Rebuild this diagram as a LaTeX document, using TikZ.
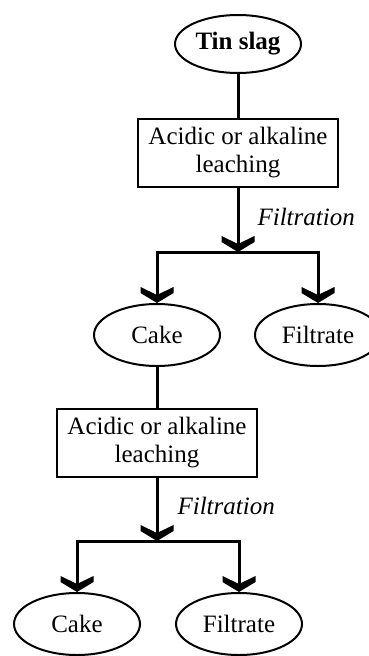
\documentclass[tikz,border=0pt]{standalone}
\usepackage{fontspec}
\setmainfont{Liberation Serif}
\usetikzlibrary{arrows.meta,shapes.geometric}
\pgfdeclarearrow{
  name = Chev,
  setup code = {
    \pgfarrowssettipend{0pt}
    \pgfarrowssetlineend{-6pt}
    \pgfarrowssetbackend{-16pt}
    \pgfarrowshullpoint{0pt}{0pt}
    \pgfarrowshullpoint{-16pt}{16.5pt}
    \pgfarrowshullpoint{-16pt}{-16.5pt}
  },
  drawing code = {
    \pgfpathmoveto{\pgfpoint{0pt}{0pt}}
    \pgfpathlineto{\pgfpoint{-10pt}{16.5pt}}
    \pgfpathlineto{\pgfpoint{-16pt}{16.5pt}}
    \pgfpathlineto{\pgfpoint{-8pt}{0pt}}
    \pgfpathlineto{\pgfpoint{-16pt}{-16.5pt}}
    \pgfpathlineto{\pgfpoint{-10pt}{-16.5pt}}
    \pgfpathclose
    \pgfusepathqfill
  }
}
\begin{document}
\begin{tikzpicture}[x=1pt,y=-1pt,
  every node/.style={font=\fontsize{25}{28}\selectfont},
  oval/.style={draw,ellipse,line width=2pt,minimum width=126pt,minimum height=62pt,inner sep=0pt},
  proc/.style={draw,rectangle,line width=2.2pt,minimum width=200pt,minimum height=68pt,inner sep=0pt,align=center},
  conn/.style={line width=3pt},
  chev/.style={-Chev},
  lbl/.style={anchor=west,font=\fontsize{25}{28}\selectfont\itshape}]
\useasboundingbox[fill=white] (0,0) rectangle (369,656);
\node[oval,minimum height=58pt] (tin) at (238,44) {\textbf{Tin slag}};
\node[proc] (box1) at (238,153) {Acidic or alkaline\\leaching};
\coordinate (j1) at (238,252);
\node[oval] (cake1) at (157,335) {Cake};
\node[oval] (filt1) at (318,335) {Filtrate};
\node[proc] (box2) at (157,443) {Acidic or alkaline\\leaching};
\coordinate (j2) at (157,541);
\node[oval] (cake2) at (77,624) {Cake};
\node[oval] (filt2) at (239,624) {Filtrate};
\node[lbl] (f1) at (254,217) {Filtration};
\node[lbl] (f2) at (174,506) {Filtration};
\draw[conn] (tin) -- (box1);
\draw[conn,chev] (box1) -- (j1);
\draw[conn,chev] (j1) -| (cake1.north);
\draw[conn,chev] (j1) -| (filt1.north);
\draw[conn] (cake1) -- (box2);
\draw[conn,chev] (box2) -- (j2);
\draw[conn,chev] (j2) -| (cake2.north);
\draw[conn,chev] (j2) -| (filt2.north);
\end{tikzpicture}
\end{document}
